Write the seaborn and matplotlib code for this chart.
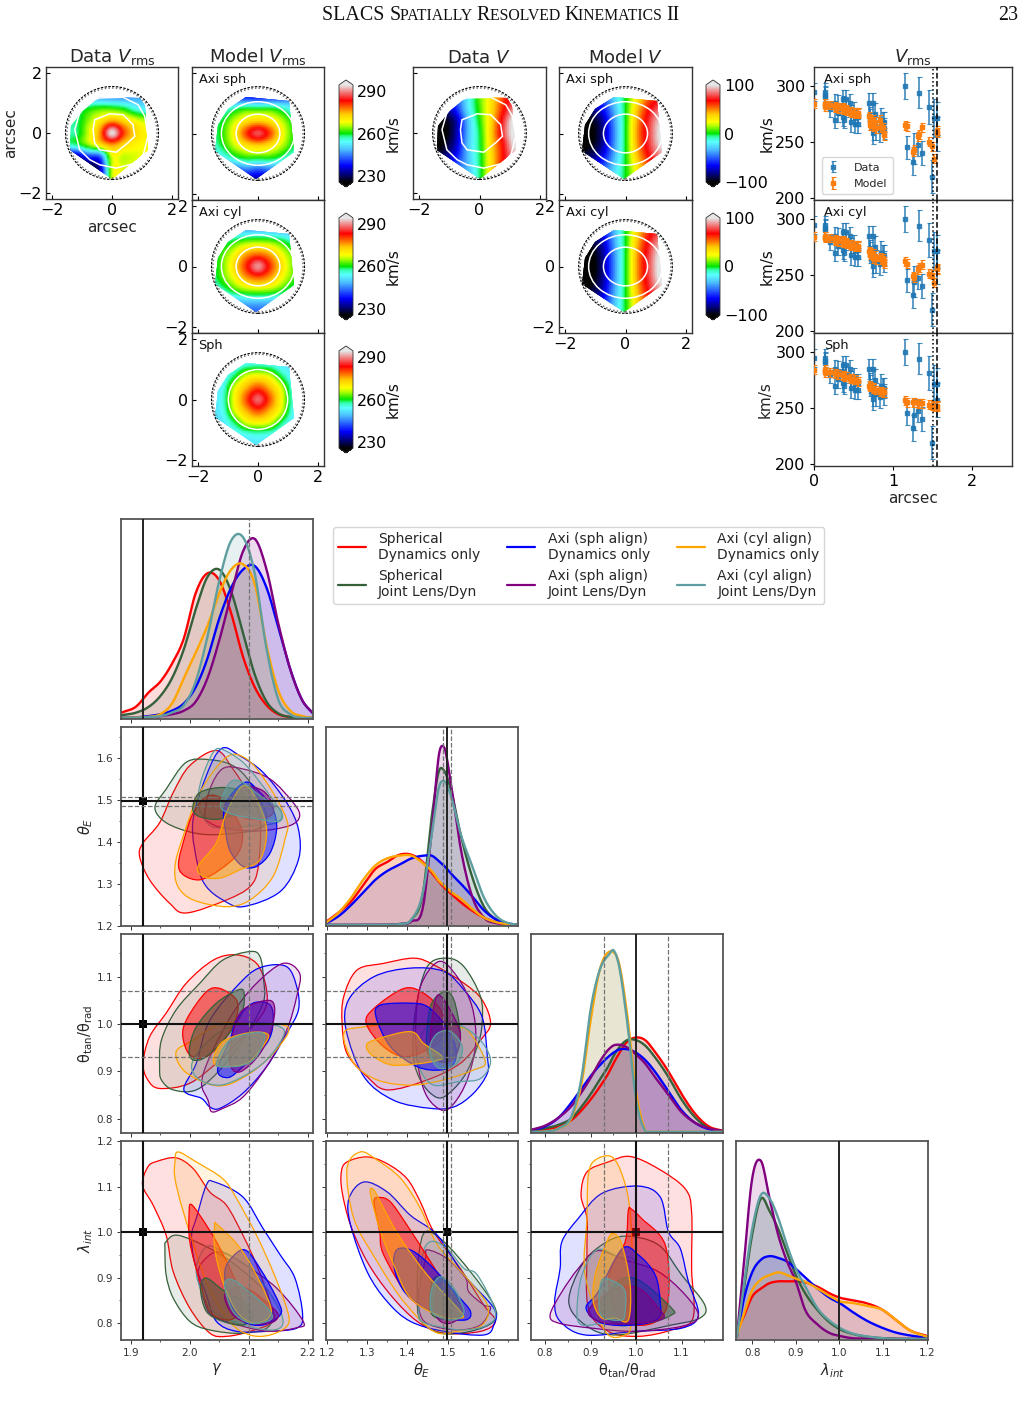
import numpy as np
import matplotlib
matplotlib.use("Agg")
import matplotlib.pyplot as plt
import seaborn as sns
from matplotlib.colors import LinearSegmentedColormap, Normalize, to_rgba
from matplotlib.cm import ScalarMappable
from matplotlib.patches import Circle, Ellipse, PathPatch, Polygon
from matplotlib.lines import Line2D
from matplotlib.path import Path
from matplotlib.ticker import MultipleLocator

# ---------------------------------------------------------------- kinematic maps (km/s)
map_x = [-1.6, -1.2, -0.8, -0.4, 0.0, 0.4, 0.8, 1.2, 1.6]
map_y = [1.6, 1.2, 0.8, 0.4, 0.0, -0.4, -0.8, -1.2, -1.6]

data_vrms = [
    [244, 244, 244, 244, 244, 244, 244, 244, 244],
    [247, 247, 247, 247, 246, 246, 247, 248, 248],
    [256, 256, 260, 262, 262, 260, 255, 253, 252],
    [258, 258, 264, 270, 275, 272, 268, 265, 265],
    [258, 258, 266, 276, 294, 280, 272, 269, 269],
    [256, 258, 264, 271, 276, 272, 269, 268, 268],
    [232, 232, 240, 243, 267, 266, 267, 268, 268],
    [226, 226, 226, 234, 266, 267, 268, 268, 268],
    [226, 226, 226, 234, 266, 267, 268, 268, 268],
]
axi_sph_vrms = [
    [236, 236, 236, 236, 236, 236, 236, 236, 236],
    [240, 240, 240, 240, 239, 240, 241, 243, 244],
    [250, 253, 258, 261, 261, 261, 258, 253, 250],
    [255, 259.5, 266, 271, 273, 271, 266, 259.5, 255],
    [257, 261, 269, 280, 287, 280, 269, 261, 257],
    [255, 259.5, 266, 271, 273, 271, 266, 259.5, 255],
    [250, 253, 258, 261, 261, 261, 258, 253, 250],
    [238, 240, 242, 245, 243, 245, 245, 242, 240],
    [232, 232, 232, 232, 232, 232, 232, 232, 232],
]
axi_cyl_vrms = [
    [244, 244, 244, 244, 244, 244, 244, 244, 244],
    [246, 247, 248, 249, 249, 249, 248, 247, 246],
    [252, 256, 261, 264, 265, 264, 261, 256, 252],
    [256, 262, 268, 275, 278, 275, 268, 262, 256],
    [257, 263, 271, 281, 290, 281, 271, 263, 257],
    [256, 262, 268, 275, 278, 275, 268, 262, 256],
    [252, 256, 261, 264, 265, 264, 261, 256, 252],
    [246, 247, 248, 249, 249, 249, 248, 247, 246],
    [243, 243, 243, 243, 243, 243, 243, 243, 243],
]
sph_vrms = [
    [252, 252, 252, 252, 252, 252, 252, 252, 252],
    [252, 252, 252, 254, 255, 254, 252, 252, 252],
    [252, 252, 258, 266, 268, 266, 258, 252, 252],
    [252, 254, 266, 274, 279, 274, 266, 254, 252],
    [252, 255, 268, 279, 288, 279, 268, 255, 252],
    [252, 254, 266, 274, 279, 274, 266, 254, 252],
    [252, 252, 258, 266, 268, 266, 258, 252, 252],
    [252, 252, 252, 254, 255, 254, 252, 252, 252],
    [252, 252, 252, 252, 252, 252, 252, 252, 252],
]
data_v = [
    [-50, -50, -45, -25, 5, 30, 60, 75, 80],
    [-75, -65, -52, -22, 8, 32, 60, 80, 85],
    [-95, -85, -62, -24, 6, 34, 65, 90, 105],
    [-110, -100, -80, -34, 2, 36, 75, 110, 115],
    [-115, -105, -80, -35, -2, 38, 78, 110, 115],
    [-110, -98, -76, -33, -3, 36, 70, 105, 115],
    [-95, -85, -65, -33, -4, 34, 68, 90, 100],
    [-80, -70, -50, -33, -5, 34, 68, 80, 90],
    [-70, -60, -45, -30, -5, 34, 60, 75, 85],
]
axi_sph_v = [
    [-50, -50, -40, -22, 0, 24, 45, 50, 50],
    [-70, -65, -52, -28, 0, 30, 55, 65, 70],
    [-90, -85, -68, -36, 0, 40, 68, 85, 90],
    [-105, -100, -82, -43, 0, 46, 76, 100, 105],
    [-110, -105, -85, -45, 0, 48, 78, 105, 112],
    [-105, -100, -82, -43, 0, 46, 76, 100, 105],
    [-90, -85, -68, -36, 0, 40, 68, 85, 90],
    [-70, -65, -52, -28, 0, 30, 55, 65, 70],
    [-50, -50, -40, -22, 0, 24, 45, 50, 50],
]
axi_cyl_v = [
    [-70, -65, -55, -30, 0, 32, 55, 65, 70],
    [-85, -80, -65, -35, 0, 36, 62, 75, 80],
    [-100, -95, -78, -40, 0, 42, 72, 92, 95],
    [-110, -105, -84, -44, 0, 47, 78, 105, 110],
    [-112, -108, -85, -45, 0, 48, 80, 108, 112],
    [-110, -105, -84, -44, 0, 47, 78, 105, 110],
    [-100, -95, -78, -40, 0, 42, 72, 92, 95],
    [-85, -80, -65, -35, 0, 36, 62, 75, 80],
    [-70, -65, -55, -30, 0, 32, 55, 65, 70],
]

# spectroscopic field outline and the isophotes of the lens
field_hull = [(-0.39, 1.2), (1.03, 1.07), (1.2, -0.6), (-0.06, -1.52), (-1.43, -0.58), (-1.35, 0.28), (-1.0, 0.8)]
data_hull = [(-0.41, 1.2), (0.92, 1.17), (1.09, 0.89), (1.2, -0.55), (0.0, -1.53), (-1.41, -0.55), (-1.36, 0.22), (-0.97, 0.72)]
iso_outer = [(-1.24, 0.11), (-1.08, 0.67), (-0.74, 1.06), (-0.41, 1.17), (0.37, 1.19), (0.87, 0.94), (1.09, 0.56),
             (1.2, -0.1), (1.05, -0.7), (0.81, -1.0), (0.14, -1.17), (-0.41, -1.06), (-0.74, -0.89), (-1.08, -0.56)]
iso_inner = [(-0.63, 0.11), (-0.58, 0.44), (-0.08, 0.64), (0.37, 0.61), (0.7, 0.28), (0.76, -0.11), (0.53, -0.33),
             (0.14, -0.64), (-0.41, -0.56), (-0.58, -0.33)]
axi_isophotes = [(1.22, 1.05), (0.73, 0.64)]
sph_isophotes = [(0.99, 0.99)]
aperture_radii = [1.5, 1.55]

# ---------------------------------------------------------------- binned Vrms profile
profile_r = [0.0, 0.14, 0.14, 0.14, 0.2, 0.26, 0.26, 0.3, 0.3, 0.36, 0.37, 0.37, 0.38, 0.4, 0.4, 0.46, 0.47, 0.47, 0.5, 0.52, 0.52, 0.55, 0.55,
             0.7, 0.71, 0.71, 0.74, 0.75, 0.75, 0.77, 0.78, 0.83, 0.84, 0.87, 0.88, 0.89,
             1.15, 1.17, 1.25, 1.26, 1.32, 1.31, 1.36, 1.45, 1.49, 1.52, 1.55, 1.55]
profile_data = [295, 295, 292, 290, 279, 285, 270, 283, 276, 272, 288, 283, 270, 288, 280, 285, 268, 275, 278, 272, 266, 266, 272,
                285, 272, 270, 285, 262, 258, 275, 262, 260, 270, 268, 262, 268,
                300, 245, 232, 244, 294, 247, 240, 281, 219, 271, 271, 257]
profile_err = [8, 8, 8, 9, 7, 8, 8, 9, 8, 8, 8, 8, 8, 8, 8, 8, 9, 8, 8, 8, 8, 8, 8,
               9, 9, 9, 9, 10, 10, 10, 10, 10, 10, 9, 9, 9,
               12, 10, 12, 14, 14, 10, 11, 15, 15, 17, 15, 15]
profile_axi_sph = [284, 283, 282, 284, 283, 282, 281, 281, 280, 281, 280, 279, 279, 279, 278, 277, 276, 277, 276, 276, 275, 275, 276,
                   273, 265, 268, 270, 265, 264, 268, 262, 270, 263, 263, 258, 256,
                   265, 264, 241, 243, 257, 255, 263, 250, 246, 235, 260, 258]
profile_axi_cyl = [284, 284, 283, 284, 283, 282, 281, 281, 280, 281, 280, 279, 279, 279, 278, 277, 276, 277, 276, 276, 275, 275, 276,
                   271, 270, 268, 269, 267, 265, 267, 264, 266, 264, 265, 262, 260,
                   262, 260, 249, 248, 257, 255, 259, 251, 250, 243, 255, 256]
profile_sph = [284, 283, 282, 284, 282, 281, 281, 280, 280, 279, 279, 279, 278, 278, 278, 276, 276, 276, 275, 275, 275, 274, 274,
               270, 269, 269, 268, 267, 267, 266, 266, 265, 265, 264, 264, 264,
               257, 255, 255, 255, 254, 254, 254, 253, 252, 251, 251, 252]
profile_model_err = [4] * 48

# ---------------------------------------------------------------- posterior values
gamma_truth, theta_truth, ratio_truth, lambda_truth = 1.92, 1.497, 1.0, 1.0
gamma_fit = [2.1]
theta_fit = [1.487, 1.507]
ratio_fit = [0.93, 1.07]

gamma_grid = [1.885, 1.91, 1.93, 1.95, 1.97, 1.99, 2.01, 2.03, 2.05, 2.07, 2.09, 2.11, 2.13, 2.15, 2.17, 2.19, 2.21]
gamma_red = [.03, .065, .14, .20, .30, .44, .69, .80, .76, .58, .34, .17, .07, .02, .005, 0, 0]
gamma_green = [.015, .03, .06, .12, .22, .38, .60, .78, .82, .70, .47, .24, .09, .025, .005, 0, 0]
gamma_blue = [0, .003, .01, .02, .04, .08, .17, .33, .55, .72, .82, .84, .72, .50, .27, .10, .02]
gamma_purple = [0, 0, .002, .01, .02, .04, .09, .22, .43, .68, .92, .99, .82, .52, .27, .10, .02]
gamma_orange = [0, .002, .006, .02, .08, .22, .36, .51, .69, .82, .85, .74, .40, .15, .04, .01, 0]
gamma_teal = [0, .001, .005, .01, .03, .07, .20, .45, .76, .98, 1.0, .80, .38, .10, .02, 0, 0]

theta_grid = [1.2, 1.23, 1.26, 1.29, 1.32, 1.35, 1.38, 1.41, 1.44, 1.46, 1.48, 1.49, 1.51, 1.53, 1.56, 1.59, 1.62, 1.65, 1.67]
theta_red = [.02, .07, .13, .22, .31, .35, .39, .39, .345, .29, .235, .21, .17, .13, .08, .04, .015, .004, 0]
theta_green = [0, 0, 0, 0, 0, .001, .005, .03, .20, .60, .866, .86, .73, .52, .27, .10, .03, .005, 0]
theta_blue = [.01, .05, .11, .18, .25, .30, .335, .37, .385, .385, .35, .33, .28, .235, .16, .08, .03, .008, .002]
theta_purple = [0, 0, 0, 0, 0, .001, .005, .02, .12, .52, .97, .99, .75, .45, .16, .04, .01, .002, 0]
theta_orange = [.015, .07, .15, .25, .33, .37, .385, .385, .34, .30, .24, .22, .18, .15, .09, .04, .015, .004, 0]
theta_teal = [0, 0, 0, 0, 0, .001, .005, .03, .20, .50, .78, .80, .70, .52, .33, .15, .05, .01, .002]

ratio_grid = [.77, .80, .83, .86, .88, .90, .92, .94, .95, .96, .98, 1.0, 1.02, 1.04, 1.07, 1.10, 1.13, 1.16, 1.19]
ratio_red = [.004, .013, .03, .07, .12, .18, .25, .33, .38, .425, .50, .525, .51, .45, .34, .21, .10, .03, .007]
ratio_green = [.006, .02, .04, .08, .14, .21, .29, .37, .42, .46, .51, .51, .48, .42, .31, .18, .08, .02, .005]
ratio_blue = [.01, .03, .08, .17, .24, .31, .37, .42, .44, .455, .46, .44, .40, .34, .23, .12, .05, .015, .003]
ratio_purple = [.012, .035, .08, .15, .22, .30, .39, .46, .48, .485, .47, .43, .38, .31, .21, .11, .05, .02, .005]
ratio_orange = [0, .002, .02, .09, .27, .62, .90, 1.0, 1.0, .96, .66, .22, .01, 0, 0, 0, 0, 0, 0]
ratio_teal = [0, .002, .02, .10, .30, .68, .90, .985, 1.01, .95, .62, .18, .005, 0, 0, 0, 0, 0, 0]

lambda_grid = [.765, .78, .80, .82, .84, .86, .88, .90, .92, .95, .98, 1.0, 1.03, 1.06, 1.10, 1.13, 1.16, 1.20]
lambda_red = [.04, .12, .235, .28, .31, .32, .32, .32, .315, .29, .25, .23, .215, .20, .16, .105, .05, .017]
lambda_green = [.01, .26, .58, .78, .71, .61, .48, .355, .26, .16, .087, .055, .028, .013, .004, .001, 0, 0]
lambda_blue = [.02, .21, .37, .44, .46, .45, .43, .39, .345, .28, .225, .20, .15, .105, .06, .035, .02, .007]
lambda_purple = [.01, .39, .89, .99, .78, .575, .43, .32, .17, .08, .03, .017, .004, .002, 0, 0, 0, 0]
lambda_orange = [.02, .13, .27, .33, .355, .37, .355, .335, .32, .28, .235, .21, .20, .185, .16, .105, .05, .013]
lambda_teal = [.01, .28, .61, .80, .78, .67, .52, .39, .30, .17, .096, .063, .03, .015, .004, 0, 0, 0]

# Credible-region outlines (outer, inner) for each parameter pair and model
GT_R1 = ([1.915, 1.921, 1.949, 1.972, 2.0, 2.045, 2.073, 2.102, 2.119, 2.116, 2.102, 2.062, 1.994, 1.966, 1.932],
         [1.366, 1.398, 1.446, 1.518, 1.582, 1.618, 1.574, 1.51, 1.454, 1.342, 1.294, 1.262, 1.231, 1.254, 1.31])
GT_R2 = ([1.981, 1.992, 2.006, 2.028, 2.051, 2.073, 2.089, 2.082, 2.051, 2.017, 1.989],
         [1.350, 1.414, 1.470, 1.508, 1.506, 1.470, 1.422, 1.374, 1.334, 1.310, 1.322])
GT_G1 = ([1.941, 1.960, 1.994, 2.034, 2.073, 2.102, 2.130, 2.113, 2.051, 2.006, 1.960],
         [1.482, 1.526, 1.590, 1.596, 1.582, 1.542, 1.462, 1.430, 1.418, 1.422, 1.446])
GT_G2 = ([2.005, 2.017, 2.056, 2.090, 2.099, 2.079, 2.045, 2.014],
         [1.482, 1.518, 1.530, 1.518, 1.482, 1.466, 1.454, 1.462])
GT_B1 = ([2.014, 2.005, 2.028, 2.054, 2.085, 2.124, 2.164, 2.184, 2.184, 2.153, 2.090, 2.056, 2.028],
         [1.342, 1.446, 1.558, 1.623, 1.605, 1.566, 1.494, 1.430, 1.358, 1.282, 1.246, 1.262, 1.294])
GT_B2 = ([2.062, 2.059, 2.093, 2.119, 2.141, 2.147, 2.136, 2.113, 2.090, 2.070],
         [1.414, 1.486, 1.542, 1.518, 1.478, 1.430, 1.374, 1.342, 1.342, 1.374])
GT_P1 = ([2.025, 2.034, 2.056, 2.090, 2.136, 2.175, 2.186, 2.169, 2.113, 2.056, 2.034],
         [1.462, 1.526, 1.575, 1.574, 1.550, 1.494, 1.462, 1.439, 1.426, 1.434, 1.446])
GT_P2 = ([2.059, 2.090, 2.124, 2.141, 2.136, 2.102, 2.073],
         [1.486, 1.530, 1.522, 1.486, 1.462, 1.455, 1.470])
GT_O1 = ([1.975, 1.987, 2.017, 2.062, 2.096, 2.130, 2.164, 2.161, 2.141, 2.102, 2.062, 2.006, 1.980],
         [1.342, 1.406, 1.518, 1.602, 1.598, 1.542, 1.454, 1.406, 1.318, 1.262, 1.246, 1.262, 1.294])
GT_O2 = ([2.014, 2.045, 2.062, 2.090, 2.113, 2.130, 2.119, 2.085, 2.051, 2.023],
         [1.342, 1.398, 1.470, 1.534, 1.502, 1.430, 1.358, 1.334, 1.314, 1.318])
GT_C1 = ([2.014, 2.020, 2.040, 2.056, 2.090, 2.119, 2.155, 2.147, 2.102, 2.045, 2.025],
         [1.494, 1.550, 1.614, 1.620, 1.590, 1.542, 1.470, 1.446, 1.438, 1.434, 1.454])
GT_C2 = ([2.052, 2.068, 2.090, 2.119, 2.153, 2.150, 2.113, 2.073],
         [1.486, 1.542, 1.542, 1.510, 1.478, 1.450, 1.455, 1.466])

GR_R1 = ([1.921, 1.932, 1.960, 1.994, 2.040, 2.079, 2.113, 2.129, 2.127, 2.090, 2.051, 2.0, 1.949, 1.929],
         [0.917, 0.973, 1.023, 1.086, 1.135, 1.146, 1.128, 1.079, 1.030, 0.973, 0.924, 0.875, 0.864, 0.882])
GR_R2 = ([1.988, 1.997, 2.028, 2.051, 2.079, 2.079, 2.062, 2.028, 2.0],
         [0.977, 1.015, 1.068, 1.075, 1.051, 1.015, 0.973, 0.931, 0.935])
GR_G1 = ([1.949, 1.952, 1.977, 2.017, 2.056, 2.102, 2.119, 2.125, 2.124, 2.090, 2.051, 2.011, 1.972, 1.952],
         [0.910, 0.966, 1.030, 1.086, 1.135, 1.153, 1.142, 1.093, 1.044, 0.966, 0.903, 0.861, 0.861, 0.882])
GR_G2 = ([1.999, 2.011, 2.045, 2.082, 2.092, 2.088, 2.062, 2.028, 2.006],
         [0.945, 0.994, 1.044, 1.072, 1.065, 1.023, 0.973, 0.931, 0.924])
GR_B1 = ([1.990, 2.011, 2.034, 2.090, 2.124, 2.164, 2.181, 2.184, 2.164, 2.130, 2.090, 2.051, 2.034, 2.020],
         [0.861, 0.917, 1.008, 1.093, 1.121, 1.121, 1.079, 1.030, 0.980, 0.910, 0.854, 0.822, 0.825, 0.843])
GR_B2 = ([2.047, 2.068, 2.079, 2.107, 2.136, 2.141, 2.130, 2.090, 2.065],
         [0.903, 0.966, 1.008, 1.044, 1.040, 1.001, 0.959, 0.910, 0.887])
GR_P1 = ([2.020, 2.034, 2.073, 2.113, 2.158, 2.186, 2.181, 2.164, 2.130, 2.090, 2.056, 2.037, 2.031],
         [0.875, 0.931, 1.023, 1.086, 1.128, 1.107, 1.058, 0.987, 0.910, 0.846, 0.822, 0.815, 0.839])
GR_P2 = ([2.068, 2.073, 2.090, 2.138, 2.141, 2.119, 2.085],
         [0.917, 0.980, 1.030, 1.049, 1.001, 0.938, 0.899])
GR_O1 = ([1.977, 2.006, 2.051, 2.102, 2.158, 2.166, 2.136, 2.102, 2.062, 2.028, 1.989],
         [0.942, 0.966, 1.001, 1.001, 0.998, 0.980, 0.931, 0.896, 0.871, 0.875, 0.903])
GR_O2 = ([2.040, 2.056, 2.102, 2.133, 2.119, 2.096, 2.062, 2.045],
         [0.927, 0.963, 0.982, 0.977, 0.945, 0.917, 0.910, 0.913])
GR_C1 = ([2.003, 2.017, 2.056, 2.107, 2.153, 2.158, 2.130, 2.090, 2.051, 2.017],
         [0.910, 0.945, 0.987, 1.003, 0.994, 0.973, 0.924, 0.889, 0.871, 0.882])
GR_C2 = ([2.045, 2.068, 2.113, 2.127, 2.113, 2.090, 2.056],
         [0.917, 0.966, 0.982, 0.973, 0.931, 0.913, 0.910])

TR_R1 = ([1.238, 1.242, 1.275, 1.341, 1.416, 1.465, 1.540, 1.585, 1.606, 1.581, 1.531, 1.449, 1.350, 1.300, 1.250],
         [1.001, 1.058, 1.114, 1.128, 1.139, 1.125, 1.086, 1.051, 1.001, 0.966, 0.917, 0.882, 0.861, 0.889, 0.938])
TR_R2 = ([1.298, 1.317, 1.391, 1.440, 1.482, 1.488, 1.474, 1.399, 1.341],
         [1.001, 1.033, 1.075, 1.065, 1.030, 0.994, 0.959, 0.931, 0.952])
TR_G1 = ([1.414, 1.420, 1.449, 1.498, 1.540, 1.581, 1.585, 1.573, 1.540, 1.490, 1.457, 1.428],
         [0.938, 1.030, 1.121, 1.139, 1.121, 1.058, 1.001, 0.952, 0.889, 0.846, 0.854, 0.889])
TR_G2 = ([1.447, 1.457, 1.490, 1.515, 1.531, 1.523, 1.490, 1.457],
         [0.959, 1.037, 1.068, 1.051, 0.980, 0.945, 0.920, 0.931])
TR_B1 = ([1.248, 1.254, 1.317, 1.407, 1.490, 1.540, 1.585, 1.598, 1.598, 1.564, 1.515, 1.457, 1.366, 1.292],
         [0.987, 1.051, 1.100, 1.118, 1.111, 1.072, 1.015, 0.931, 0.896, 0.854, 0.825, 0.822, 0.839, 0.889])
TR_B2 = ([1.322, 1.333, 1.407, 1.449, 1.490, 1.519, 1.515, 1.482, 1.424, 1.358],
         [1.015, 1.040, 1.044, 1.037, 1.001, 0.952, 0.917, 0.903, 0.910, 0.952])
TR_P1 = ([1.420, 1.432, 1.478, 1.523, 1.560, 1.569, 1.548, 1.515, 1.486, 1.449, 1.428],
         [0.987, 1.079, 1.132, 1.100, 1.037, 0.959, 0.882, 0.832, 0.818, 0.846, 0.903])
TR_P2 = ([1.457, 1.469, 1.486, 1.523, 1.531, 1.515, 1.482, 1.461],
         [0.980, 1.051, 1.056, 1.001, 0.966, 0.927, 0.920, 0.945])
TR_O1 = ([1.242, 1.292, 1.399, 1.523, 1.556, 1.593, 1.564, 1.490, 1.407, 1.325, 1.267],
         [0.980, 0.994, 1.001, 0.994, 0.980, 0.920, 0.903, 0.882, 0.871, 0.882, 0.917])
TR_O2 = ([1.298, 1.317, 1.407, 1.440, 1.486, 1.457, 1.366, 1.317],
         [0.952, 0.966, 0.984, 0.959, 0.931, 0.920, 0.913, 0.931])
TR_C1 = ([1.426, 1.449, 1.507, 1.573, 1.606, 1.581, 1.523, 1.465, 1.432],
         [0.952, 0.994, 1.005, 0.973, 0.924, 0.885, 0.878, 0.871, 0.903])
TR_C2 = ([1.455, 1.474, 1.507, 1.536, 1.523, 1.482, 1.461],
         [0.952, 0.980, 0.984, 0.952, 0.917, 0.906, 0.924])

GL_R1 = ([1.920, 1.929, 1.944, 1.977, 2.006, 2.034, 2.062, 2.090, 2.113, 2.136, 2.141, 2.102, 2.062, 2.034, 2.0, 1.972, 1.960, 1.938],
         [1.103, 1.143, 1.155, 1.163, 1.139, 1.088, 1.059, 0.993, 0.928, 0.847, 0.804, 0.782, 0.771, 0.778, 0.833, 0.913, 0.993, 1.059])
GL_R2 = ([1.999, 2.002, 2.017, 2.045, 2.073, 2.088, 2.082, 2.062, 2.034, 2.017, 2.0],
         [1.045, 1.061, 1.037, 0.979, 0.906, 0.847, 0.818, 0.807, 0.826, 0.891, 0.979])
GL_G1 = ([1.958, 1.960, 1.980, 2.034, 2.085, 2.130, 2.136, 2.090, 2.034, 2.0, 1.972, 1.960],
         [0.964, 0.979, 0.993, 0.964, 0.920, 0.862, 0.796, 0.778, 0.785, 0.804, 0.855, 0.906])
GL_G2 = ([2.018, 2.028, 2.056, 2.090, 2.107, 2.090, 2.056, 2.028],
         [0.877, 0.899, 0.873, 0.847, 0.815, 0.796, 0.804, 0.826])
GL_B1 = ([2.003, 2.011, 2.028, 2.042, 2.090, 2.124, 2.153, 2.178, 2.191, 2.181, 2.130, 2.079, 2.045, 2.028, 2.008],
         [0.993, 1.030, 1.103, 1.110, 1.077, 1.008, 0.950, 0.899, 0.819, 0.789, 0.782, 0.782, 0.804, 0.862, 0.935])
GL_B2 = ([2.059, 2.068, 2.093, 2.119, 2.150, 2.153, 2.124, 2.090, 2.068],
         [0.906, 0.939, 0.961, 0.920, 0.847, 0.818, 0.796, 0.804, 0.847])
GL_P1 = ([2.014, 2.034, 2.056, 2.090, 2.147, 2.192, 2.181, 2.136, 2.090, 2.040, 2.025],
         [0.913, 0.950, 0.955, 0.931, 0.877, 0.804, 0.790, 0.782, 0.793, 0.815, 0.847])
GL_P2 = ([2.059, 2.082, 2.107, 2.141, 2.150, 2.136, 2.102, 2.073],
         [0.862, 0.880, 0.869, 0.833, 0.815, 0.800, 0.800, 0.818])
GL_O1 = ([1.975, 1.980, 2.011, 2.056, 2.079, 2.113, 2.141, 2.164, 2.166, 2.136, 2.102, 2.068, 2.028, 1.989, 1.975],
         [1.154, 1.176, 1.154, 1.117, 1.074, 0.993, 0.913, 0.833, 0.796, 0.774, 0.774, 0.803, 0.891, 1.045, 1.118])
GL_O2 = ([2.042, 2.045, 2.079, 2.107, 2.136, 2.133, 2.107, 2.079, 2.056, 2.042],
         [1.015, 1.018, 0.975, 0.920, 0.840, 0.811, 0.800, 0.826, 0.891, 0.964])
GL_C1 = ([2.011, 2.028, 2.056, 2.102, 2.141, 2.158, 2.141, 2.090, 2.040, 2.020],
         [0.920, 0.968, 0.957, 0.920, 0.855, 0.804, 0.785, 0.796, 0.826, 0.869])
GL_C2 = ([2.059, 2.073, 2.107, 2.136, 2.136, 2.102, 2.073],
         [0.884, 0.895, 0.862, 0.826, 0.807, 0.800, 0.826])

TL_R1 = ([1.236, 1.250, 1.300, 1.350, 1.399, 1.432, 1.465, 1.531, 1.589, 1.618, 1.581, 1.490, 1.424, 1.358, 1.300, 1.259, 1.238],
         [1.132, 1.154, 1.165, 1.150, 1.117, 1.066, 1.001, 0.920, 0.840, 0.804, 0.782, 0.778, 0.804, 0.862, 0.935, 1.015, 1.088])
TL_R2 = ([1.317, 1.331, 1.358, 1.399, 1.457, 1.523, 1.531, 1.482, 1.407, 1.341, 1.331],
         [1.066, 1.076, 1.066, 1.015, 0.935, 0.840, 0.818, 0.818, 0.855, 0.950, 1.001])
TL_G1 = ([1.424, 1.428, 1.445, 1.490, 1.556, 1.614, 1.614, 1.556, 1.482, 1.432],
         [0.862, 0.950, 1.001, 0.979, 0.913, 0.840, 0.804, 0.782, 0.778, 0.807])
TL_G2 = ([1.455, 1.461, 1.482, 1.515, 1.536, 1.523, 1.474],
         [0.833, 0.891, 0.900, 0.869, 0.826, 0.811, 0.811])
TL_B1 = ([1.259, 1.255, 1.292, 1.350, 1.407, 1.474, 1.540, 1.614, 1.614, 1.589, 1.490, 1.407, 1.350, 1.300],
         [1.015, 1.074, 1.110, 1.088, 1.037, 0.993, 0.906, 0.833, 0.796, 0.774, 0.782, 0.804, 0.847, 0.913])
TL_B2 = ([1.366, 1.379, 1.416, 1.465, 1.523, 1.556, 1.544, 1.482, 1.407, 1.374],
         [0.942, 0.964, 0.957, 0.920, 0.862, 0.826, 0.807, 0.815, 0.855, 0.899])
TL_P1 = ([1.428, 1.445, 1.449, 1.498, 1.544, 1.552, 1.589, 1.606, 1.581, 1.523, 1.457, 1.432],
         [0.869, 0.942, 0.961, 0.942, 0.899, 0.869, 0.840, 0.833, 0.796, 0.785, 0.796, 0.818])
TL_P2 = ([1.469, 1.474, 1.494, 1.531, 1.536, 1.507, 1.482],
         [0.826, 0.880, 0.884, 0.840, 0.818, 0.800, 0.804])
TL_O1 = ([1.250, 1.283, 1.325, 1.383, 1.432, 1.474, 1.540, 1.598, 1.585, 1.523, 1.465, 1.391, 1.325, 1.267],
         [1.139, 1.176, 1.158, 1.118, 1.052, 0.972, 0.906, 0.840, 0.796, 0.782, 0.782, 0.847, 0.935, 1.030])
TL_O2 = ([1.308, 1.317, 1.341, 1.383, 1.449, 1.531, 1.531, 1.482, 1.407, 1.366, 1.333],
         [1.085, 1.092, 1.052, 0.986, 0.906, 0.826, 0.811, 0.815, 0.855, 0.928, 1.001])
TL_C1 = ([1.428, 1.436, 1.457, 1.498, 1.540, 1.573, 1.618, 1.598, 1.540, 1.474, 1.436],
         [0.826, 0.942, 0.979, 0.964, 0.920, 0.906, 0.826, 0.796, 0.785, 0.793, 0.804])
TL_C2 = ([1.457, 1.461, 1.482, 1.515, 1.540, 1.515, 1.474],
         [0.833, 0.877, 0.902, 0.877, 0.826, 0.807, 0.815])

RL_R1 = ([0.879, 0.892, 0.939, 0.987, 1.049, 1.108, 1.122, 1.122, 1.125, 1.078, 1.005, 0.939, 0.895, 0.892, 0.892],
         [1.081, 1.132, 1.154, 1.166, 1.139, 1.095, 1.044, 0.920, 0.811, 0.785, 0.771, 0.782, 0.833, 0.958, 1.030])
RL_R2 = ([0.941, 0.976, 0.983, 0.990, 1.012, 1.064, 1.071, 1.049, 0.998, 0.954],
         [0.906, 0.979, 1.048, 1.050, 1.030, 0.972, 0.855, 0.807, 0.796, 0.826])
RL_G1 = ([0.852, 0.881, 0.925, 0.976, 1.049, 1.100, 1.151, 1.140, 1.078, 0.954, 0.888],
         [0.847, 0.928, 0.972, 0.991, 0.972, 0.906, 0.840, 0.811, 0.796, 0.774, 0.796])
RL_G2 = ([0.919, 0.947, 0.972, 1.012, 1.078, 1.078, 1.027, 0.954],
         [0.833, 0.877, 0.899, 0.891, 0.833, 0.818, 0.800, 0.800])
RL_B1 = ([0.821, 0.833, 0.837, 0.873, 0.925, 1.005, 1.053, 1.071, 1.097, 1.115, 1.137, 1.100, 0.998, 0.888, 0.833],
         [0.847, 0.920, 0.979, 1.030, 1.085, 1.101, 1.077, 1.001, 0.964, 0.891, 0.818, 0.789, 0.782, 0.774, 0.804])
RL_B2 = ([0.890, 0.917, 0.969, 1.005, 1.042, 1.053, 1.049, 0.998, 0.925],
         [0.833, 0.869, 0.963, 0.950, 0.906, 0.847, 0.811, 0.796, 0.800])
RL_P1 = ([0.811, 0.837, 0.873, 0.914, 0.976, 1.049, 1.108, 1.137, 1.100, 0.998, 0.903, 0.830],
         [0.818, 0.869, 0.920, 0.959, 0.939, 0.913, 0.862, 0.815, 0.793, 0.782, 0.789, 0.800])
RL_P2 = ([0.895, 0.947, 1.005, 1.049, 1.060, 1.012, 0.932],
         [0.826, 0.873, 0.877, 0.833, 0.811, 0.800, 0.800])
RL_O1 = ([0.895, 0.910, 0.947, 0.972, 0.987, 0.992, 0.990, 0.976, 0.932, 0.888, 0.892],
         [1.125, 1.158, 1.165, 1.118, 1.044, 0.920, 0.804, 0.774, 0.782, 0.906, 1.030])
RL_O2 = ([0.906, 0.910, 0.936, 0.950, 0.969, 0.987, 0.983, 0.954, 0.925],
         [0.847, 0.906, 0.979, 0.997, 0.972, 0.884, 0.807, 0.811, 0.811])
RL_C1 = ([0.870, 0.881, 0.914, 0.961, 0.998, 0.994, 0.983, 0.932, 0.881],
         [0.826, 0.906, 0.961, 0.946, 0.935, 0.847, 0.796, 0.800, 0.796])
RL_C2 = ([0.919, 0.925, 0.958, 0.976, 0.976, 0.969, 0.932],
         [0.833, 0.895, 0.888, 0.869, 0.826, 0.807, 0.811])

model_keys = ["R", "G", "B", "P", "O", "C"]
model_names = ["Spherical\nDynamics only", "Spherical\nJoint Lens/Dyn",
               "Axi (sph align)\nDynamics only", "Axi (sph align)\nJoint Lens/Dyn",
               "Axi (cyl align)\nDynamics only", "Axi (cyl align)\nJoint Lens/Dyn"]
model_colors = ["red", "#35603a", "blue", "purple", "orange", "cadetblue"]

# ---------------------------------------------------------------- figure set-up
sns.set_theme(style="ticks", rc={"axes.edgecolor": "#333333", "axes.linewidth": 1.0,
                                 "xtick.color": "#222222", "ytick.color": "#222222"})
W, H = 1024, 1404
fig = plt.figure(figsize=(W / 100, H / 100), dpi=100)


def box(left, top, right, bottom):
    return [left / W, 1 - bottom / H, (right - left) / W, (bottom - top) / H]


sauron = LinearSegmentedColormap.from_list("sauron", [
    (0.0, (0.01, 0.01, 0.01)), (0.17, (0, 0, 1)), (0.336, (0.3, 0.75, 1)), (0.414, (0.35, 1, 1)),
    (0.464, (0.2, 1, 0.7)), (0.502, (0, 0.9, 0)), (0.58, (0.7, 1, 0)), (0.62, (1, 1, 0)),
    (0.70, (1, 0.8, 0)), (0.84, (1, 0, 0)), (1.0, (0.9, 0.9, 0.9))])
sauron.set_over((0.9, 0.9, 0.9))
sauron.set_under((0.01, 0.01, 0.01))
norm_vrms = Normalize(226, 294)
norm_v = Normalize(-100, 100)


def refine(table, factor=6):
    # Cubic convolution along both axes so the binned map shades smoothly
    def along(m):
        p = np.pad(m, ((1, 1), (0, 0)), mode="edge")
        rows = []
        for i in range(len(m) - 1):
            for t in np.arange(factor) / factor:
                rows.append(0.5 * (2 * p[i + 1] + (p[i + 2] - p[i]) * t
                                   + (2 * p[i] - 5 * p[i + 1] + 4 * p[i + 2] - p[i + 3]) * t**2
                                   + (3 * p[i + 1] - p[i] - 3 * p[i + 2] + p[i + 3]) * t**3))
        rows.append(m[-1])
        return np.array(rows)
    return along(along(np.asarray(table, float)).T).T


def kin_map(rect, values, norm, hull, tag=None, isophotes=None, yticks=False, xticks=False):
    ax = fig.add_axes(box(*rect))
    sns.despine(ax=ax, top=False, right=False)
    fine = refine(values)
    X, Y = np.meshgrid(np.linspace(map_x[0], map_x[-1], fine.shape[1]), np.linspace(map_y[0], map_y[-1], fine.shape[0]))
    mesh = ax.pcolormesh(X, Y, fine, shading="gouraud", cmap=sauron, norm=norm, rasterized=True)
    mesh.set_clip_path(Polygon(hull, closed=True, transform=ax.transData))
    if isophotes is None:
        for loop in (iso_outer, iso_inner):
            ax.add_patch(Polygon(loop, closed=True, fill=False, edgecolor="white", lw=1.1))
    else:
        for rx, ry in isophotes:
            ax.add_patch(Ellipse((0, 0), 2 * rx, 2 * ry, fill=False, edgecolor="white", lw=1.1))
    ax.add_patch(Circle((0, 0), aperture_radii[0], fill=False, edgecolor="0.4", ls=":", lw=1.0))
    ax.add_patch(Circle((0, 0), aperture_radii[1], fill=False, edgecolor="black", ls=(0, (2.2, 1.2)), lw=0.8))
    ax.set_xlim(-2.2, 2.2)
    ax.set_ylim(-2.2, 2.2)
    ax.set_xticks([-2, 0, 2])
    ax.set_yticks([-2, 0, 2])
    ax.tick_params(direction="in", length=3, width=0.8, labelsize=11.5, pad=3,
                   labelbottom=xticks, labelleft=yticks, colors="black")
    if tag:
        ax.text(0.05, 0.955, tag, transform=ax.transAxes, fontsize=9.3, va="top", ha="left", color="#111111")
    return ax


def colour_bar(top, left, norm, ticks, label_x):
    cax = fig.add_axes(box(left, top, left + 14, top + 107))
    cb = fig.colorbar(ScalarMappable(norm=norm, cmap=sauron), cax=cax, extend="both", extendfrac=0.05)
    cb.set_ticks(ticks)
    cb.ax.tick_params(labelsize=11.5, length=3, direction="in", pad=3, colors="black")
    cax.text((label_x - left) / 14, 0.5, "km/s", rotation=90, transform=cax.transAxes,
             ha="center", va="center", fontsize=11, color="#111111")
    cb.outline.set_edgecolor("#333333")
    cb.outline.set_linewidth(0.6)


ax_dv = kin_map((46, 67, 178, 199), data_vrms, norm_vrms, data_hull, yticks=True, xticks=True)
ax_dv.set_title(r"Data $V_{\rm rms}$", fontsize=13, pad=3)
ax_dv.set_xlabel("arcsec", fontsize=11, labelpad=1)
ax_dv.set_ylabel("arcsec", fontsize=11, labelpad=0)
ax_m1 = kin_map((192, 67, 324, 200), axi_sph_vrms, norm_vrms, field_hull, "Axi sph", axi_isophotes)
ax_m1.set_title(r"Model $V_{\rm rms}$", fontsize=13, pad=3)
kin_map((192, 200, 324, 333), axi_cyl_vrms, norm_vrms, field_hull, "Axi cyl", axi_isophotes, yticks=True)
kin_map((192, 333, 324, 466), sph_vrms, norm_vrms, field_hull, "Sph", sph_isophotes, yticks=True, xticks=True)
for top in (80, 213, 346):
    colour_bar(top, 339, norm_vrms, [230, 260, 290], 393)

ax_d = kin_map((413, 67, 546, 199), data_v, norm_v, data_hull, xticks=True)
ax_d.set_title(r"Data $V$", fontsize=13, pad=3)
ax_mv = kin_map((559, 67, 692, 200), axi_sph_v, norm_v, field_hull, "Axi sph", axi_isophotes)
ax_mv.set_title(r"Model $V$", fontsize=13, pad=3)
kin_map((559, 200, 692, 333), axi_cyl_v, norm_v, field_hull, "Axi cyl", axi_isophotes, yticks=True, xticks=True)
for top in (80, 213):
    colour_bar(top, 706, norm_v, [-100, 0, 100], 767)

# ---------------------------------------------------------------- Vrms against radius
for i, (tag, model) in enumerate([("Axi sph", profile_axi_sph), ("Axi cyl", profile_axi_cyl), ("Sph", profile_sph)]):
    ax = fig.add_axes(box(814, 67 + 133 * i, 1012, 200 + 133 * i))
    d = ax.errorbar(profile_r, profile_data, yerr=profile_err, fmt="s", ms=2.2, color="#1f77b4", elinewidth=1.2,
                    capsize=1.8, capthick=0.8, alpha=0.85)
    m = ax.errorbar(profile_r, model, yerr=profile_model_err, fmt="s", ms=2.2, color="#ff7f0e", elinewidth=1.2,
                    capsize=1.8, capthick=0.8, zorder=3)
    sns.scatterplot(x=profile_r, y=model, ax=ax, color="#ff7f0e", s=7, marker="s", linewidth=0, zorder=3.5)
    for rad, style in zip(aperture_radii, (":", "--")):
        ax.axvline(rad, color="black", ls=style, lw=1.1, zorder=4)
    ax.set_xlim(0, 2.5)
    ax.set_ylim(198, 317)
    ax.set_yticks([200, 250, 300])
    ax.set_xticks([0, 1, 2])
    ax.tick_params(labelsize=11.5, length=3, width=0.8, pad=3, labelbottom=(i == 2), bottom=(i == 2), colors="black")
    ax.text(0.05, 0.955, tag, transform=ax.transAxes, fontsize=9.3, va="top", ha="left", color="#111111")
    if i == 0:
        ax.set_title(r"$V_{\rm rms}$", fontsize=13, pad=3)
        ax.legend([d, m], ["Data", "Model"], loc="lower left", bbox_to_anchor=(0.01, 0.0), fontsize=8,
                  handlelength=1.0, borderpad=0.5, handletextpad=1.4, labelspacing=0.55)
    if i == 2:
        ax.set_xlabel("arcsec", fontsize=11, labelpad=1)
        ax.set_ylabel("km/s", fontsize=11, labelpad=2)


# ---------------------------------------------------------------- corner plot helpers
def closed_curve(loop):
    pts = np.column_stack(loop)
    n = len(pts)
    verts = [pts[0]]
    codes = [Path.MOVETO]
    for i in range(n):
        p0, p1, p2, p3 = pts[i - 1], pts[i], pts[(i + 1) % n], pts[(i + 2) % n]
        verts += [p1 + (p2 - p0) / 6, p2 - (p3 - p1) / 6, p2]
        codes += [Path.CURVE4] * 3
    return Path(verts, codes)


def smooth_density(x, y, per_segment=10):
    x, y = np.asarray(x, float), np.asarray(y, float)
    slope = np.gradient(y, x)
    out_x, out_y = [], []
    for i in range(len(x) - 1):
        h = x[i + 1] - x[i]
        t = np.linspace(0, 1, per_segment, endpoint=False)
        out_x.append(x[i] + h * t)
        out_y.append((2 * t**3 - 3 * t**2 + 1) * y[i] + (t**3 - 2 * t**2 + t) * h * slope[i]
                     + (-2 * t**3 + 3 * t**2) * y[i + 1] + (t**3 - t**2) * h * slope[i + 1])
    return np.r_[np.concatenate(out_x), x[-1]], np.clip(np.r_[np.concatenate(out_y), y[-1]], 0, None)


def style_corner_axes(ax, xr, yr, show_x, show_y, xstep, ystep, has_y=True):
    ax.set_xlim(*xr)
    ax.set_ylim(*yr)
    ax.xaxis.set_major_locator(MultipleLocator(xstep))
    ax.xaxis.set_minor_locator(MultipleLocator(xstep / 2))
    if has_y:
        ax.yaxis.set_major_locator(MultipleLocator(ystep))
        ax.yaxis.set_minor_locator(MultipleLocator(ystep / 2))
    else:
        ax.set_yticks([])
    ax.tick_params(which="major", length=3, width=0.7, labelsize=7.5, pad=2.5,
                   labelbottom=show_x, labelleft=show_y, colors="#333333")
    ax.tick_params(which="minor", length=1.5, width=0.6, colors="#333333")
    for s in ax.spines.values():
        s.set_linewidth(1.3)
        s.set_color("#555555")
    ax.spines["right"].set_visible(True)
    ax.spines["top"].set_visible(True)


col_left = [121, 326, 531, 736]
row_top = [519, 727, 934, 1141]
row_bottom = [719, 926, 1133, 1340]
x_ranges = [(1.8836, 2.2086), (1.198, 1.674), (0.769, 1.191), (0.763, 1.203)]
y_ranges = [None, (1.2, 1.674), (0.77, 1.19), (0.763, 1.2)]
x_steps = [0.1, 0.1, 0.1, 0.1]
y_steps = [None, 0.1, 0.1, 0.1]
truth = [gamma_truth, theta_truth, ratio_truth, lambda_truth]
fits = [gamma_fit, theta_fit, ratio_fit, []]
axis_labels = [r"$\gamma$", r"$\theta_E$", r"$\mathrm{\theta_{tan}/\theta_{rad}}$", r"$\lambda_{int}$"]
densities = [
    (gamma_grid, [gamma_red, gamma_green, gamma_blue, gamma_purple, gamma_orange, gamma_teal]),
    (theta_grid, [theta_red, theta_green, theta_blue, theta_purple, theta_orange, theta_teal]),
    (ratio_grid, [ratio_red, ratio_green, ratio_blue, ratio_purple, ratio_orange, ratio_teal]),
    (lambda_grid, [lambda_red, lambda_green, lambda_blue, lambda_purple, lambda_orange, lambda_teal]),
]
pair_prefix = {(1, 0): "GT", (2, 0): "GR", (2, 1): "TR", (3, 0): "GL", (3, 1): "TL", (3, 2): "RL"}
truth_marker_pairs = [(1, 0), (2, 0), (3, 0), (3, 1), (3, 2)]

# Marginal densities on the diagonal
for k, (grid, curves) in enumerate(densities):
    ax = fig.add_axes(box(col_left[k], row_top[k], col_left[k] + 192, row_bottom[k]))
    for curve, colour in zip(curves, model_colors):
        xs, ys = smooth_density(grid, curve)
        ax.fill_between(xs, 0, ys, color=colour, alpha=0.14, linewidth=0, zorder=2)
        sns.lineplot(x=xs, y=ys, ax=ax, color=colour, lw=1.7, sort=False, estimator=None, errorbar=None, zorder=2.5)
    ax.axvline(truth[k], color="#222222", lw=1.4, zorder=3)
    for value in fits[k]:
        ax.axvline(value, color="0.45", ls="--", lw=0.9, zorder=3)
    style_corner_axes(ax, x_ranges[k], (-0.006, 1.1), k == 3, False, x_steps[k], None, has_y=False)
    if k == 3:
        ax.set_xlabel(axis_labels[k], fontsize=10.5, labelpad=2.5)

# Joint credible regions below the diagonal
for (row, col), prefix in pair_prefix.items():
    ax = fig.add_axes(box(col_left[col], row_top[row], col_left[col] + 192, row_bottom[row]))
    for key, colour in zip(model_keys, model_colors):
        outer = globals()[f"{prefix}_{key}1"]
        inner = globals()[f"{prefix}_{key}2"]
        ax.add_patch(PathPatch(closed_curve(outer), facecolor=to_rgba(colour, 0.12), edgecolor=colour, lw=0.9, zorder=2))
        ax.add_patch(PathPatch(closed_curve(inner), facecolor=to_rgba(colour, 0.5), edgecolor=colour, lw=0.9, zorder=2.2))
    ax.axvline(truth[col], color="#111111", lw=1.5, zorder=3)
    ax.axhline(truth[row], color="#111111", lw=1.5, zorder=3)
    for value in fits[col]:
        ax.axvline(value, color="0.45", ls="--", lw=0.9, zorder=3)
    for value in fits[row]:
        ax.axhline(value, color="0.45", ls="--", lw=0.9, zorder=3)
    if (row, col) in truth_marker_pairs:
        sns.scatterplot(x=[truth[col]], y=[truth[row]], ax=ax, color="black", marker="s", s=38, linewidth=0, zorder=1.5)
    style_corner_axes(ax, x_ranges[col], y_ranges[row], row == 3, col == 0, x_steps[col], y_steps[row])
    if row == 3:
        ax.set_xlabel(axis_labels[col], fontsize=10.5, labelpad=2.5)
    if col == 0:
        ax.set_ylabel(axis_labels[row], fontsize=10.5, labelpad=1)

legend_handles = [Line2D([], [], color=c, lw=1.6) for c in model_colors]
corner_legend = fig.legend(legend_handles, model_names, ncol=3, loc="upper left", bbox_to_anchor=(333 / W, 1 - 527 / H),
                           fontsize=10, handlelength=2.0, labelspacing=0.55, columnspacing=1.95, handletextpad=0.9,
                           borderpad=0.35, borderaxespad=0, frameon=True)
for label in corner_legend.get_texts():
    label.set_linespacing(1.15)

# ---------------------------------------------------------------- running head
header = [("SLACS ", 14.4), ("S", 14.4), ("PATIALLY ", 11.3), ("R", 14.4), ("ESOLVED ", 11.3), ("K", 14.4),
          ("INEMATICS ", 11.3), ("II", 14.4)]
serif = ["Liberation Serif", "DejaVu Serif"]
renderer = fig.canvas.get_renderer()
cursor = 322.0
for word, size in header:
    t = fig.text(cursor / W, 1 - 20 / H, word.replace(" ", "\u00a0"), fontsize=size, family=serif, color="#111111", va="baseline")
    cursor = t.get_window_extent(renderer).x1
fig.text(1008 / W, 1 - 20 / H, "23", fontsize=14.4, family=serif, color="#111111", ha="center", va="baseline")

fig.savefig("out.png", dpi=100)
